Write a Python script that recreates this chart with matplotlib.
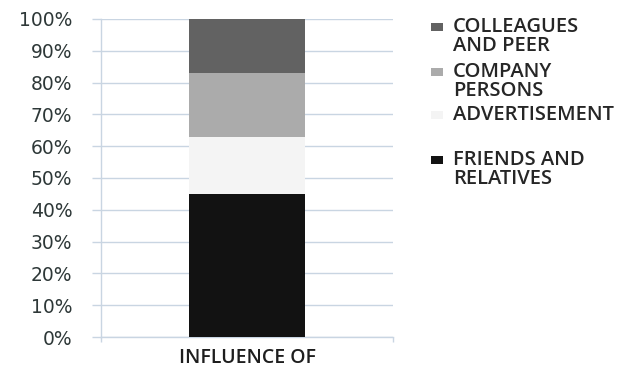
import matplotlib
matplotlib.use("Agg")
import matplotlib.pyplot as plt
from matplotlib.patches import Rectangle

# stacked shares of each source of influence (percent)
sources = ["FRIENDS AND\nRELATIVES", "ADVERTISEMENT", "COMPANY\nPERSONS", "COLLEAGUES\nAND PEER"]
shares = [45, 18, 20, 17]
colors = ["#121212", "#f4f4f4", "#ababab", "#626262"]
category = "INFLUENCE OF"
yticks = [0, 10, 20, 30, 40, 50, 60, 70, 80, 90, 100]

grid_col = "#c9d5e2"

fig = plt.figure(figsize=(6.27, 3.71), dpi=100)
ax = fig.add_axes([0.161, 0.0916, 0.466, 0.8574])

bottom = 0
for s, c, lab in zip(shares, colors, sources):
    ax.bar(0, s, width=0.4, bottom=bottom, color=c, label=lab, zorder=3)
    bottom += s

ax.set_xlim(-0.5, 0.5)
ax.set_ylim(0, 100)
ax.set_yticks(yticks)
ax.set_yticklabels(["%d%%" % v for v in yticks], fontfamily="DejaVu Sans",
                   fontsize=13.5, color="#2e3838")
ax.set_xticks([0])
ax.set_xticklabels([category], fontfamily="Open Sans", fontweight="semibold",
                   fontsize=14, color="#1e1e1e")
ax.set_xticks([-0.5, 0.5], minor=True)

ax.tick_params(axis="y", length=6.5, pad=14, color=grid_col, width=1)
ax.tick_params(axis="x", which="major", length=0, pad=8)
ax.tick_params(axis="x", which="minor", length=3.5, color=grid_col, width=1)

ax.grid(axis="y", color=grid_col, linewidth=1, zorder=0)
for side in ["top", "right"]:
    ax.spines[side].set_visible(False)
for side in ["left", "bottom"]:
    ax.spines[side].set_color(grid_col)
    ax.spines[side].set_linewidth(1)

# legend drawn by hand so the marker sits on the first text line
W, H = 627.0, 371.0
legend_y = [27, 72, 115, 160]
for (lab, c), y in zip(list(zip(sources, colors))[::-1], legend_y):
    fig.patches.append(Rectangle((431 / W, 1 - (y + 4) / H), 12 / W, 8 / H,
                                 transform=fig.transFigure, facecolor=c,
                                 edgecolor="none"))
    fig.text(453 / W, 1 - (y - 10) / H, lab, fontfamily="Open Sans",
             fontweight="semibold", fontsize=14.5, color="#262626",
             va="top", ha="left", linespacing=0.95)

fig.savefig("out.png", dpi=100)
